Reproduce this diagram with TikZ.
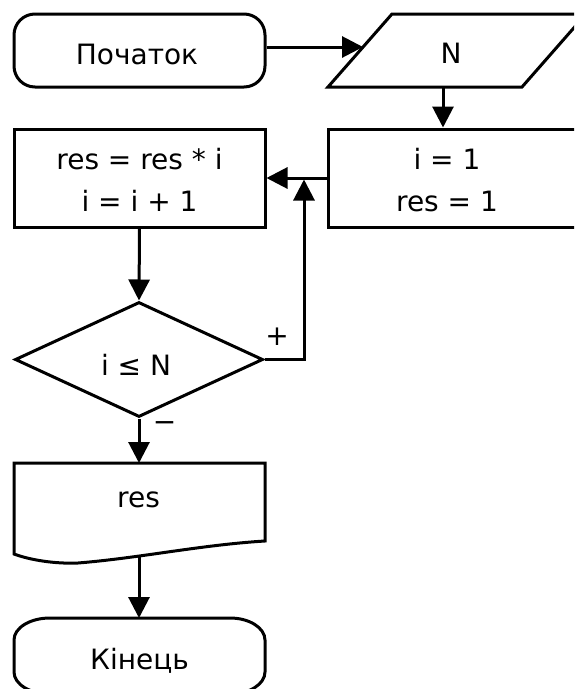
\documentclass[tikz,border=0pt]{standalone}
\usepackage{fontspec}
\setmainfont{DejaVu Sans}
\usetikzlibrary{arrows.meta,shapes.geometric}
\begin{document}
\begin{tikzpicture}[x=1pt,y=-1pt,line width=3pt,
  every node/.style={font=\fontsize{28}{32}\selectfont},
  txt/.style={anchor=base,inner sep=0pt},
  lbl/.style={anchor=center,inner sep=0pt},
  blk/.style={draw,rectangle,inner sep=0pt,minimum width=251pt,minimum height=98pt},
  arr/.style={-{Triangle[length=21pt,width=21pt]}}]
\useasboundingbox (0,0) rectangle (574,689);
\clip (0,0) rectangle (574,689);
% start terminal
\node[draw,rectangle,rounded corners=21pt,minimum width=251pt,minimum height=73pt,inner sep=0pt] (start) at (139.5,50.5) {};
\node[txt] (tStart) at (137,64) {Початок};
% input parallelogram
\draw (328,87) -- (392,14) -- (586,14) -- (522,87) -- cycle;
\coordinate (inW) at (363,47);
\coordinate (inS) at (443,87);
\node[txt] (tIn) at (451,63) {N};
% init box
\node[blk,minimum width=262pt] (init) at (459,178) {};
\node[txt] (tInit1) at (447,169) {i = 1};
\node[txt] (tInit2) at (447,211) {res = 1};
% loop body box
\node[blk] (body) at (139.5,178) {};
\node[txt] (tBody1) at (139.5,169) {res = res * i};
\node[txt] (tBody2) at (139.5,211) {i = i + 1};
% decision
\node[draw,diamond,inner sep=0pt,minimum width=248pt,minimum height=115pt] (dec) at (139,359.5) {};
\node[txt] (tDec) at (136,375) {i ≤ N};
\node[lbl] (plus) at (277,337) {+};
\node[lbl] (minus) at (164.5,427) {−};
% output document
\draw (14,463) -- (265,463) -- (265,541)
  .. controls (200,545) and (140,558) .. (78,563)
  .. controls (55,564) and (30,560) .. (14,554) -- cycle;
\coordinate (outN) at (139,463);
\coordinate (outS) at (139,556);
\node[txt] (tOut) at (138.5,507) {res};
% end terminal (its lower edge lies below the picture)
\draw (50,618) -- (230,618) .. controls (249.3,618) and (265,627.8) .. (265,640)
  -- (265,672) .. controls (265,684.2) and (249.3,694) .. (230,694)
  -- (50,694) .. controls (30.1,694) and (14,684.2) .. (14,672)
  -- (14,640) .. controls (14,627.8) and (30.1,618) .. (50,618) -- cycle;
\coordinate (endN) at (139,618);
\node[txt] (tEnd) at (139.5,669) {Кінець};
% connectors
\coordinate (jn) at (304,178);
\draw[arr] (start.east |- inW) -- (inW);
\draw[arr] (inS) -- (inS |- init.north);
\draw[arr] (init.west) -- (body.east);
\draw[arr] (body.south) -- (dec.north);
\draw[arr,shorten >=1.5pt] (dec.east) -| (jn);
\draw[arr] (dec.south) -- (outN);
\draw[arr] (outS) -- (endN);
\end{tikzpicture}
\end{document}
